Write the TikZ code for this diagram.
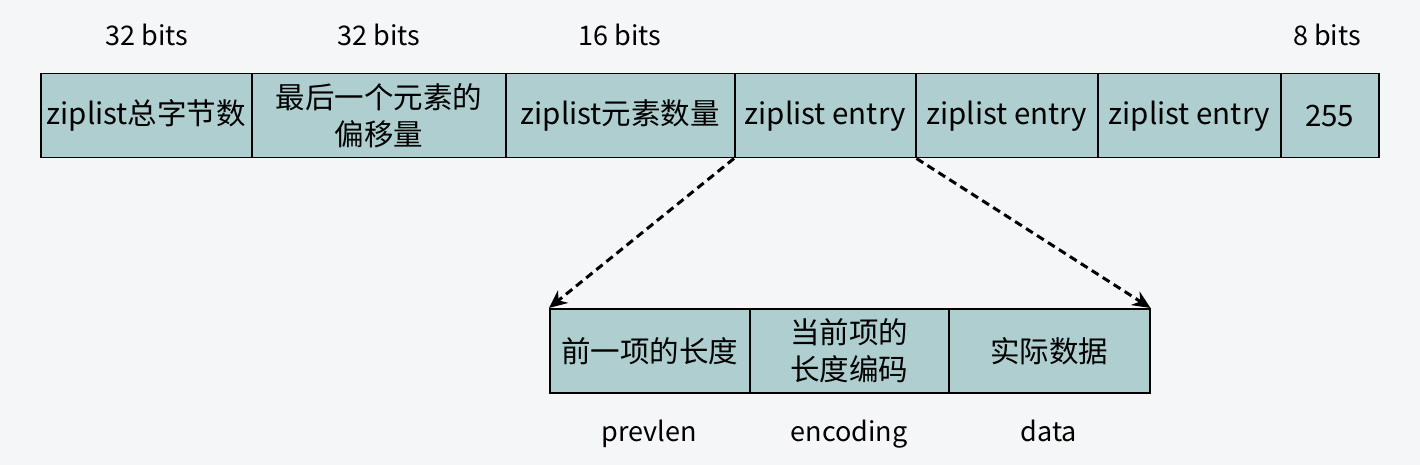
\documentclass[tikz,border=0pt]{standalone}
\usepackage{fontspec}
\setmainfont{Noto Sans CJK SC}
\usetikzlibrary{arrows.meta}
\definecolor{cellfill}{RGB}{174,206,207}
\definecolor{pagebg}{RGB}{245,246,248}
\tikzset{
  cell/.style={draw, line width=1.5pt, fill=cellfill, minimum height=84pt, anchor=north west,
    inner sep=0pt, align=center, font=\fontsize{29.5}{37}\selectfont},
  bitlabel/.style={anchor=base, font=\fontsize{27}{30}\selectfont},
  expand/.style={dashed, dash pattern=on 8pt off 5pt, line width=3pt, -{Stealth[length=18pt,width=16pt]}},
}
\begin{document}
\begin{tikzpicture}[x=1pt, y=-1pt]
            \fill [pagebg] (0,0) rectangle (1420,465);
            \useasboundingbox (0,0) rectangle (1420,465);
            % header row
            \node [cell, minimum width=211pt] (zlbytes) at (40,73) {ziplist总字节数};
            \node [cell, minimum width=254pt] (zltail) at (251,73) {最后一个元素的\\偏移量};
            \node [cell, minimum width=229pt] (zllen) at (505,73) {ziplist元素数量};
            \node [cell, minimum width=181pt] (entrya) at (734,73) {ziplist entry};
            \node [cell, minimum width=182pt] (entryb) at (915,73) {ziplist entry};
            \node [cell, minimum width=183pt] (entryc) at (1097,73) {ziplist entry};
            \node [cell, minimum width=98pt] (zlend) at (1280,73) {255};
            \node [bitlabel] (bitsa) at (147,46) {32 bits};
            \node [bitlabel] (bitsb) at (379,46) {32 bits};
            \node [bitlabel] (bitsc) at (620,46) {16 bits};
            \node [bitlabel] (bitsd) at (1327,46) {8 bits};
            % entry layout
            \node [cell, minimum width=200pt] (prevlen) at (549,308) {前一项的长度};
            \node [cell, minimum width=199pt] (encoding) at (749,308) {当前项的\\长度编码};
            \node [cell, minimum width=201pt] (data) at (948,308) {实际数据};
            \node [bitlabel] (prevlenlab) at (649,441) {prevlen};
            \node [bitlabel] (encodinglab) at (849,441) {encoding};
            \node [bitlabel] (datalab) at (1049,441) {data};
            \draw [expand] (entrya.south west) -- (prevlen.north west);
            \draw [expand] (entrya.south east) -- (data.north east);
        \end{tikzpicture}
\end{document}
